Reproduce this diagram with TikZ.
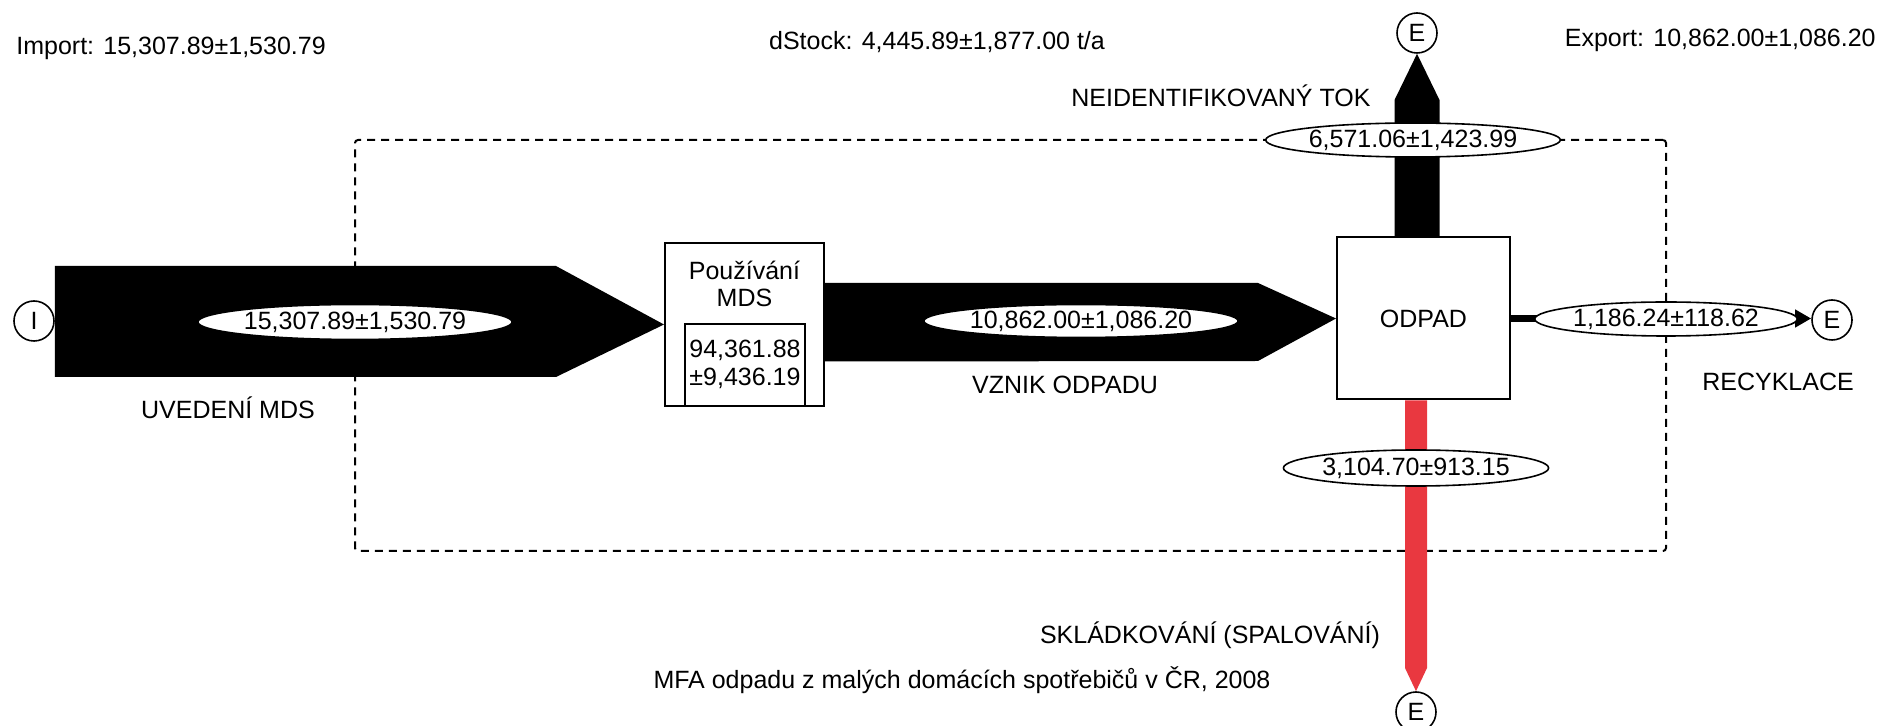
\documentclass[tikz,border=0pt]{standalone}
\usepackage{fontspec}
\setmainfont{Liberation Sans}
\usetikzlibrary{shapes.geometric,calc,arrows.meta}
\definecolor{flowred}{RGB}{233,56,64}
\begin{document}
\begin{tikzpicture}[x=0.5pt,y=-0.5pt,
  every node/.style={font=\fontsize{12.5}{15}\selectfont},
  txt/.style={inner sep=0pt},
  endpt/.style={circle,draw,line width=0.8pt,minimum size=20pt,inner sep=0pt},
  procbox/.style={rectangle,draw,line width=1pt,inner sep=0pt},
  sysbox/.style={rectangle,draw,line width=1pt,dash pattern=on 4pt off 3pt,rounded corners=1.5pt,inner sep=0pt},
  vlabel/.style={ellipse,draw,fill=white,line width=0.8pt,inner sep=0pt},
  flow/.style={fill=black},
  redflow/.style={fill=flowred}]
\useasboundingbox (0,0) rectangle (1879,726);

% system boundary
\node[sysbox,minimum width=655.5pt,minimum height=205.5pt] (system) at (1010.5,345.5) {};

% end points
\node[endpt] (I) at (34,321) {I};
\node[endpt] (Etop) at (1417,33) {E};
\node[endpt] (Eright) at (1832,320) {E};
\node[endpt] (Ebot) at (1416,712) {E};

% processes
\node[procbox,fill=white,minimum width=79.5pt,minimum height=81.5pt] (use) at (744.5,324.5) {};
\node[procbox,minimum width=60pt,minimum height=41pt,anchor=south] (stock) at (use.south) {};
\node[txt] (usetxt1) at (744.5,270) {Používání};
\node[txt] (usetxt2) at (744.5,298) {MDS};
\node[txt] (stocktxt1) at (745,350) {94,361.88};
\node[txt] (stocktxt2) at (745,378) {±9,436.19};
\node[procbox,fill=white,minimum width=86.5pt,minimum height=81pt] (odpad) at (1423.5,318.5) {ODPAD};

% flows
\fill[flow] ($(I.east)+(0,-55)$) -- (556,266) -- (use.west) -- (556,377) -- ($(I.east)+(0,56)$) -- cycle;
\fill[flow] ($(use.east)+(0,-41.5)$) -- (1258,283) -- (odpad.west) -- (1258,361) -- ($(use.east)+(0,37)$) -- cycle;
\fill[flow] (1394.5,0 |- odpad.north) -- (1394.5,100) -- (Etop.south) -- (1439.5,100) -- (1439.5,0 |- odpad.north) -- cycle;
\fill[redflow] (1405,0 |- odpad.south) -- (1405,668) -- (Ebot.north) -- (1427,668) -- (1427,0 |- odpad.south) -- cycle;
\draw[line width=3.5pt,-{Triangle[length=8pt,width=8.5pt]}] (odpad.east) -- (Eright.west |- odpad.east);

% flow values
\node[vlabel,minimum width=134pt,minimum height=17.5pt] (v1) at (355,322) {15,307.89±1,530.79};
\node[vlabel,minimum width=133pt,minimum height=16.5pt] (v2) at (1081,321) {10,862.00±1,086.20};
\node[vlabel,minimum width=120pt,minimum height=17pt] (v3) at (1413,140) {6,571.06±1,423.99};
\node[vlabel,minimum width=115.5pt,minimum height=17pt] (v4) at (1666,319) {1,186.24±118.62};
\node[vlabel,minimum width=116.5pt,minimum height=18pt] (v5) at (1416,468) {3,104.70±913.15};

% flow names
\node[txt] (n1) at (228,408) {UVEDENÍ MDS};
\node[txt] (n2) at (1065,385) {VZNIK ODPADU};
\node[txt,anchor=west] (n3) at (1071,96) {NEIDENTIFIKOVANÝ TOK};
\node[txt] (n4) at (1778,382) {RECYKLACE};
\node[txt] (n5) at (1210,635) {SKLÁDKOVÁNÍ (SPALOVÁNÍ)};

% balances and caption
\node[txt,anchor=west] (imp) at (16,48) {Import: 15,307.89±1,530.79};
\node[txt] (dst) at (937,42) {dStock: 4,445.89±1,877.00 t/a};
\node[txt,anchor=east] (exp) at (1876,40) {Export: 10,862.00±1,086.20};
\node[txt] (cap) at (962,680) {MFA odpadu z malých domácích spotřebičů v ČR, 2008};
\end{tikzpicture}
\end{document}
